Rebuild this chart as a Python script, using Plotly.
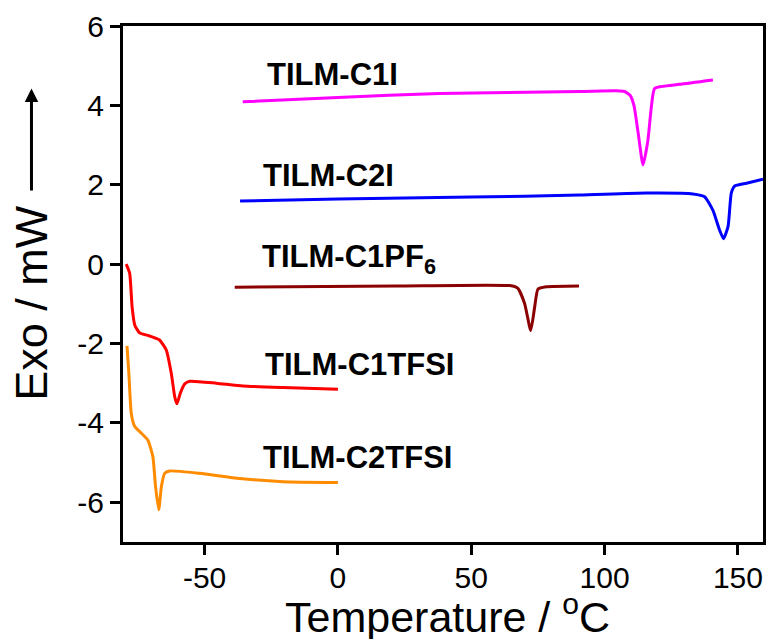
import plotly.graph_objects as go

# ---- data ----
c1i_T = [-35.7, 0, 38, 90.6, 104.5, 107.5, 109.6, 111.0, 112.6, 114.4, 116.2, 117.6, 118.8, 128.1, 140.6]
c1i_Y = [4.09, 4.20, 4.30, 4.35, 4.37, 4.35, 4.25, 4.00, 3.30, 2.50, 3.10, 4.00, 4.43, 4.53, 4.64]

c2i_T = [-36.7, 0, 50, 90.6, 115.6, 133.1, 137.5, 140.6, 143.1, 144.6, 146.3, 147.5, 148.8, 153.2, 159.4]
c2i_Y = [1.59, 1.64, 1.69, 1.74, 1.79, 1.77, 1.70, 1.36, 0.86, 0.64, 0.95, 1.79, 1.97, 2.04, 2.14]

pf6_T = [-38.7, 21.9, 64.4, 67.5, 70.0, 72.3, 73.8, 75.0, 78.1, 90.4]
pf6_Y = [-0.58, -0.55, -0.54, -0.61, -0.99, -1.67, -1.07, -0.63, -0.57, -0.55]

c1tfsi_T = [-79.4, -78.1, -77.2, -76.2, -74.4, -70.6, -66.9, -64.4, -62.5, -61.2, -60.4, -59.1, -57.5, -55.6, -45.6, -35.6, -20.6, 0]
c1tfsi_Y = [0.0, -0.23, -1.07, -1.53, -1.73, -1.81, -1.91, -2.16, -2.75, -3.34, -3.52, -3.25, -3.02, -2.95, -3.00, -3.07, -3.11, -3.15]

c2tfsi_T = [-79.1, -78.4, -77.5, -76.2, -73.7, -71.3, -69.4, -68.4, -67.2, -66.2, -65.0, -63.1, -51.9, -36.9, -20.6, 0]
c2tfsi_Y = [-2.06, -2.75, -3.76, -4.09, -4.26, -4.43, -4.85, -5.60, -6.19, -5.60, -5.27, -5.21, -5.27, -5.40, -5.48, -5.50]

series_names = ["TILM-C1I", "TILM-C2I", "TILM-C1PF<sub>6</sub>", "TILM-C1TFSI", "TILM-C2TFSI"]
series_colors = ["#FF00FF", "#0000FF", "#8B0000", "#FF0000", "#FF8C00"]
label_T = [-27.5, -28.7, -29.1, -28.1, -28.7]
label_Y = [4.79, 2.23, 0.13, -2.54, -4.88]

x_tickvals = [-50, 0, 50, 100, 150]
x_ticktext = ["-50", "0", "50", "100", "150"]
y_tickvals = [-6, -4, -2, 0, 2, 4, 6]
y_ticktext = ["-6", "-4", "-2", "0", "2", "4", "6"]

x_title = "Temperature / <sup>o</sup>C"
y_title = "Exo / mW"

FONT = "Liberation Sans, Arial, sans-serif"

fig = go.Figure()
all_T = [c1i_T, c2i_T, pf6_T, c1tfsi_T, c2tfsi_T]
all_Y = [c1i_Y, c2i_Y, pf6_Y, c1tfsi_Y, c2tfsi_Y]
for T, Y, col, name in zip(all_T, all_Y, series_colors, series_names):
    fig.add_trace(go.Scatter(x=T, y=Y, mode="lines", name=name,
                             line=dict(color=col, width=3, shape="spline", smoothing=0.5),
                             showlegend=False))

for name, lx, ly in zip(series_names, label_T, label_Y):
    fig.add_annotation(x=lx, y=ly, xref="x", yref="y", text="<b>" + name + "</b>",
                       showarrow=False, xanchor="left", yanchor="middle",
                       font=dict(family=FONT, size=31, color="black"))

# x-axis title
fig.add_annotation(x=0.5066, y=-0.1395, xref="paper", yref="paper", text=x_title,
                   showarrow=False, xanchor="center", yanchor="middle",
                   font=dict(family=FONT, size=43, color="black"))
# y-axis title with upward arrow
fig.add_annotation(x=-0.143, y=0.4645, xref="paper", yref="paper", text=y_title,
                   textangle=-90, showarrow=False, xanchor="center", yanchor="middle",
                   font=dict(family=FONT, size=45, color="black"))
fig.add_annotation(x=-0.143, y=0.879, xref="paper", yref="paper", text=" ",
                   showarrow=True, ax=0, ay=109, arrowhead=2, arrowwidth=3,
                   arrowsize=0.9, arrowcolor="black", font=dict(size=10))

axis_common = dict(showline=True, linecolor="black", linewidth=3, mirror=True,
                   ticks="outside", ticklen=10, tickwidth=2.5, tickcolor="black",
                   showgrid=False, zeroline=False, automargin=False,
                   tickfont=dict(family=FONT, size=30, color="black"))

fig.update_xaxes(range=[-80.6, 159.4], tickmode="array", tickvals=x_tickvals,
                 ticktext=x_ticktext, ticklabelstandoff=-3, **axis_common)
fig.update_yaxes(range=[-7, 6], tickmode="array", tickvals=y_tickvals,
                 ticktext=y_ticktext, **axis_common)

fig.update_layout(width=769, height=639, margin=dict(l=123, r=6, t=26, b=97),
                  plot_bgcolor="white", paper_bgcolor="white",
                  font=dict(family=FONT, color="black"))

fig.write_html("out.html")
